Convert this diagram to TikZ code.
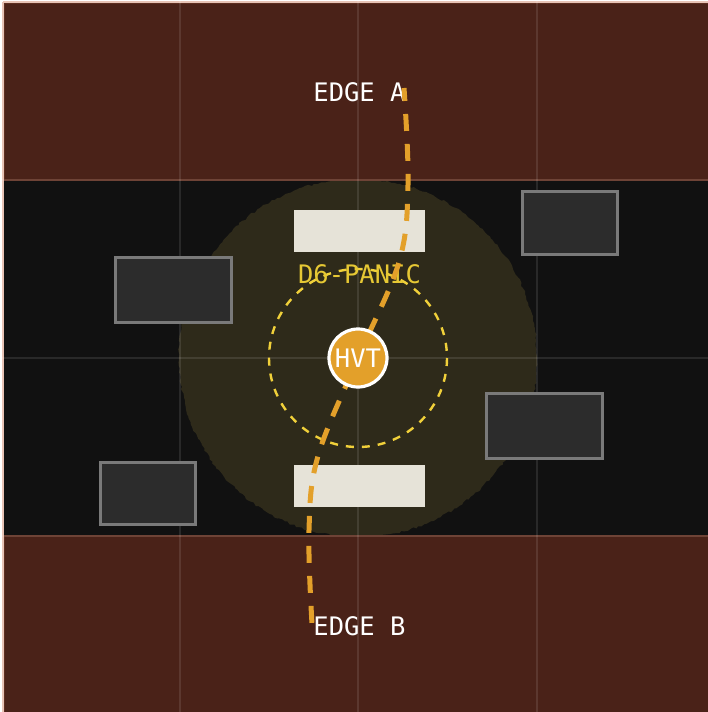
\documentclass[tikz,border=0pt]{standalone}
\usepackage{fontspec}
\newfontfamily\monofnt{DejaVu Sans Mono}
\usetikzlibrary{decorations.pathmorphing}
\definecolor{bandbrown}{HTML}{4A2218}
\definecolor{bandedge}{HTML}{5E2E20}
\definecolor{midblack}{HTML}{111111}
\definecolor{olive}{HTML}{2E2A1A}
\definecolor{paper}{HTML}{E6E3D8}
\definecolor{boxfill}{HTML}{2C2C2C}
\definecolor{boxedge}{HTML}{7A7A7A}
\definecolor{routeorange}{HTML}{E3A02A}
\definecolor{zoneyellow}{HTML}{F0D03A}
\definecolor{labelyellow}{HTML}{E6C834}
\definecolor{frame}{HTML}{E8C4B6}
\tikzset{
  band/.style={fill=bandbrown, draw=bandedge, line width=1.2pt},
  gridline/.style={draw=white, draw opacity=0.1, line width=1.6pt},
  cover/.style={fill=boxfill, draw=boxedge, line width=3pt},
  slab/.style={fill=paper, draw=none},
  txt/.style={font=\monofnt\fontsize{25.5}{30}\selectfont, anchor=base, inner sep=0pt},
}
\begin{document}
\begin{tikzpicture}[x=1pt,y=-1pt]
\useasboundingbox (0,0) rectangle (708,712);
\fill[white] (0,0) rectangle (708,712);
% middle strip
\fill[midblack] (4,3) rectangle (716,716);
% danger zone
\fill[olive, decorate, decoration={random steps, segment length=3pt, amplitude=1.1pt}] (358,358) circle[radius=179];
% bands
\path[band] (4,3) rectangle (716,180);
\path[band] (4,536) rectangle (716,716);
% frame
\draw[frame, line width=2pt] (3,2) -- (716,2);
\draw[frame, line width=2pt] (3,2) -- (3,716);
% grid
\foreach \gx in {180,358,537} \draw[gridline] (\gx,1) -- (\gx,712);
\foreach \gy in {180,358,536} \draw[gridline] (2,\gy) -- (708,\gy);
% slabs
\node[slab, minimum width=131pt, minimum height=42pt, inner sep=0pt] (slabA) at (359.5,231) {};
\node[slab, minimum width=131pt, minimum height=42pt, inner sep=0pt] (slabB) at (359.5,486) {};
% cover boxes
\node[cover, minimum width=116pt, minimum height=65pt, inner sep=0pt] (c1) at (173,289.5) {};
\node[cover, minimum width=95pt, minimum height=63pt, inner sep=0pt] (c2) at (569.5,222.5) {};
\node[cover, minimum width=116pt, minimum height=65pt, inner sep=0pt] (c3) at (544,425.5) {};
\node[cover, minimum width=95pt, minimum height=62pt, inner sep=0pt] (c4) at (147.5,493) {};
% zone ring
\draw[zoneyellow, line width=2.4pt, dash pattern=on 8pt off 8pt] (358,358) circle[radius=89];
% labels
\node[txt, text=white] (edgeA) at (359.5,101) {EDGE A};
\node[txt, text=white] (edgeB) at (359.5,635) {EDGE B};
\node[txt, text=labelyellow] (panic) at (359.5,283) {D6-PANIC};
% route
\coordinate (rA) at (404,88);
\coordinate (rB) at (312,624);
\draw[routeorange, line width=5pt, dash pattern=on 17pt off 13pt, dash phase=4pt]
  plot[smooth, tension=0.6] coordinates {(404,88) (408,185) (399,262) (358,358) (318,456) (309,530) (312,624)};
% HVT
\node[circle, fill=routeorange, draw=white, line width=3.2pt, minimum size=58pt, inner sep=0pt,
      font=\monofnt\fontsize{25.5}{30}\selectfont, text=white] (hvt) at (358,358) {HVT};
\end{tikzpicture}
\end{document}
